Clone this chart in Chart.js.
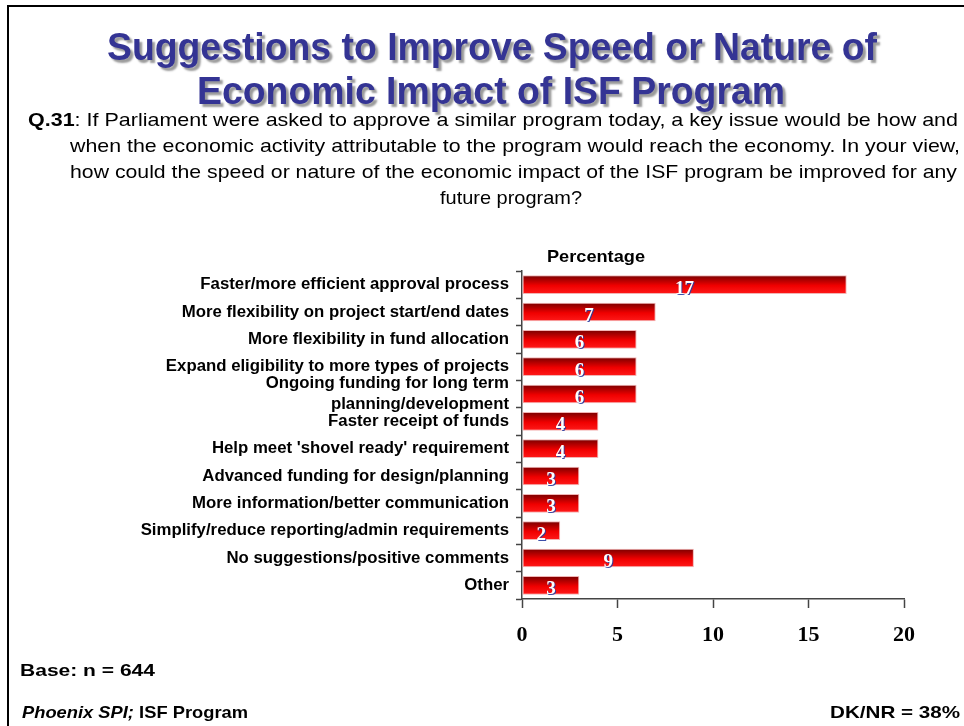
<!DOCTYPE html>
<html>
<head>
<meta charset="utf-8">
<script src="https://cdn.jsdelivr.net/npm/chart.js@4.4.1/dist/chart.umd.min.js"></script>
<style>
    body { margin: 0; background: #fff; }
    #wrap { position: relative; width: 964px; height: 726px; overflow: hidden; font-family: "Liberation Sans", Arial, sans-serif; }
    #frame { position: absolute; left: 7px; top: 5px; width: 980px; height: 760px; border-top: 2px solid #000; border-left: 2px solid #000; }
    canvas { position: absolute; left: 0; top: 0; }
    .t { position: absolute; white-space: nowrap; transform-origin: 0 50%; line-height: 1; color: #000; }
    .title { font-weight: bold; font-size: 38px; color: #343494; text-shadow: 3px 3px 2px #9a9a9a; }
    .q { font-size: 19px; }
    .foot { font-weight: bold; font-size: 17px; }
</style>
</head>
<body>
<div id="wrap">
    <div id="frame"></div>
    <canvas id="chart" width="964" height="726"></canvas>
    <div class="t title" data-x="107" data-y="47" data-w="770">Suggestions to Improve Speed or Nature of</div>
    <div class="t title" data-x="197" data-y="91" data-w="588">Economic Impact of ISF Program</div>
    <div class="t q" data-x="28" data-y="119" data-w="930"><b>Q.31</b>: If Parliament were asked to approve a similar program today, a key issue would be how and</div>
    <div class="t q" data-x="70" data-y="145" data-w="890">when the economic activity attributable to the program would reach the economy. In your view,</div>
    <div class="t q" data-x="70" data-y="171" data-w="887">how could the speed or nature of the economic impact of the ISF program be improved for any</div>
    <div class="t q" data-x="440" data-y="197" data-w="142">future program?</div>
    <div class="t foot" data-x="547" data-y="256" data-w="98">Percentage</div>
    <div class="t foot" data-x="20" data-y="670" data-w="135">Base: n = 644</div>
    <div class="t foot" data-x="22" data-y="712" data-w="226"><i>Phoenix SPI;</i> ISF Program</div>
    <div class="t foot" data-x="830" data-y="712" data-w="130">DK/NR = 38%</div>
</div>
<script>
// 数据
const categories = [
    'Faster/more efficient approval process',
    'More flexibility on project start/end dates',
    'More flexibility in fund allocation',
    'Expand eligibility to more types of projects',
    ['Ongoing funding for long term', 'planning/development'],
    'Faster receipt of funds',
    "Help meet 'shovel ready' requirement",
    'Advanced funding for design/planning',
    'More information/better communication',
    'Simplify/reduce reporting/admin requirements',
    'No suggestions/positive comments',
    'Other'
];
const percentages = [17, 7, 6, 6, 6, 4, 4, 3, 3, 2, 9, 3];
const xTicks = [0, 5, 10, 15, 20];

// 文字定位，按目标宽度压缩
document.querySelectorAll('.t').forEach(el => {
    const w = el.getBoundingClientRect().width;
    const h = el.getBoundingClientRect().height;
    el.style.left = el.dataset.x + 'px';
    el.style.top = (el.dataset.y - h / 2) + 'px';
    el.style.transform = 'scaleX(' + (el.dataset.w / w) + ')';
});

// 每根柱子的渐变
function barGradient(context) {
    const chart = context.chart;
    const y = chart.scales.y;
    if (!y || y.top === undefined) return '#e00000';
    const center = y.getPixelForValue(context.dataIndex);
    const half = (y.bottom - y.top) / categories.length * 0.68 / 2;
    const g = chart.ctx.createLinearGradient(0, center - half, 0, center + half);
    g.addColorStop(0, '#780000');
    g.addColorStop(0.55, '#f00000');
    g.addColorStop(1, '#ff1a1a');
    return g;
}

// 柱内数值
const valueLabels = {
    id: 'valueLabels',
    afterDatasetsDraw(chart) {
        const ctx = chart.ctx;
        const meta = chart.getDatasetMeta(0);
        ctx.save();
        ctx.font = 'bold 19px "Liberation Serif", "Times New Roman", serif';
        ctx.textAlign = 'center';
        ctx.textBaseline = 'middle';
        ctx.fillStyle = '#ffffff';
        ctx.shadowColor = 'rgba(40, 60, 160, 0.9)';
        ctx.shadowOffsetX = 1;
        ctx.shadowOffsetY = 1;
        meta.data.forEach((bar, i) => {
            ctx.fillText(percentages[i], (bar.x + bar.base) / 2, bar.y + 4);
        });
        ctx.restore();
    }
};

new Chart(document.getElementById('chart').getContext('2d'), {
    type: 'bar',
    data: {
        labels: categories,
        datasets: [{
            data: percentages,
            backgroundColor: barGradient,
            borderColor: '#f2b4b4',
            borderWidth: 1,
            borderSkipped: false,
            barPercentage: 0.68,
            categoryPercentage: 1
        }]
    },
    options: {
        indexAxis: 'y',
        responsive: false,
        devicePixelRatio: 1,
        animation: false,
        layout: { padding: { top: 271, right: 60, bottom: 67, left: 0 } },
        plugins: { legend: { display: false }, tooltip: { enabled: false } },
        scales: {
            y: {
                afterFit(scale) { scale.width = 522; },
                grid: { drawOnChartArea: false, offset: true, tickLength: 6, color: '#444', tickWidth: 1.5 },
                border: { color: '#444', width: 1.5 },
                ticks: {
                    autoSkip: false,
                    padding: 7,
                    color: '#000',
                    font: { family: '"Liberation Sans", Arial, sans-serif', weight: 'bold', size: 16.8, lineHeight: 1.25 }
                }
            },
            x: {
                min: 0,
                max: 20,
                afterBuildTicks(scale) { scale.ticks = xTicks.map(v => ({ value: v })); },
                afterFit(scale) { scale.height = 60; },
                grid: { drawOnChartArea: false, tickLength: 9, color: '#444', tickWidth: 1.5 },
                border: { color: '#444', width: 1.5 },
                ticks: {
                    padding: 14,
                    color: '#000',
                    font: { family: '"Liberation Serif", "Times New Roman", serif', weight: 'bold', size: 22 }
                }
            }
        }
    },
    plugins: [valueLabels]
});
</script>
</body>
</html>
